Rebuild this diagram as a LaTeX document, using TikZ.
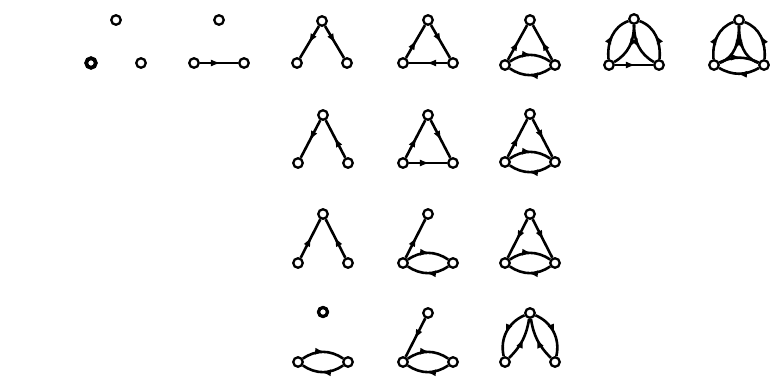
\documentclass[tikz,border=0pt]{standalone}
\usepackage{tikz}
\usetikzlibrary{arrows.meta,decorations.markings}

\begin{document}
\begin{tikzpicture}[x=1pt,y=1pt,
  vtx/.style={circle,draw,fill=white,line width=2.3pt,inner sep=0pt,minimum size=9.5pt},
  arc/.style={line width=2.6pt,
    decoration={markings,mark=at position 0.55 with {\arrow{Latex[length=10pt,width=7pt]}}},
    postaction={decorate}}]
  \useasboundingbox (0,0) rectangle (770,-380);

  % 顶点：每个图三个点（上、左下、右下）
  \foreach \g/\x/\y/\h in {r1a/116/20/43, r1b/219/20/43, r1c/322/21/42, r1d/428/20/43,
                           r1e/530/20/45, r1f/634/19/46, r1g/739/20/45,
                           r2c/323/115/48, r2d/428/115/48, r2e/530/114/48,
                           r3c/323/214/49, r3d/428/214/49, r3e/530/214/49,
                           r4c/323/312/50, r4d/428/313/49, r4e/530/313/49}
  {
    \node[vtx] (\g-t) at (\x,-\y) {};
    \node[vtx] (\g-l) at (\x-25,-\y-\h) {};
    \node[vtx] (\g-r) at (\x+25,-\y-\h) {};
  }
  % 加粗的孤立点
  \draw[line width=3.8pt] (r1a-l) circle (4.8pt);
  \draw[line width=3.2pt] (r4c-t) circle (4.5pt);

  % 第一行
  \draw[arc] (r1b-l) -- (r1b-r);
  \draw[arc] (r1c-t) -- (r1c-l);
  \draw[arc] (r1c-t) -- (r1c-r);
  \draw[arc] (r1d-l) -- (r1d-t);
  \draw[arc] (r1d-t) -- (r1d-r);
  \draw[arc] (r1d-r) -- (r1d-l);
  \draw[arc] (r1e-l) -- (r1e-t);
  \draw[arc] (r1e-r) -- (r1e-t);
  \draw[arc] (r1e-l) to[bend left=35] (r1e-r);
  \draw[arc] (r1e-r) to[bend left=35] (r1e-l);
  \draw[arc] (r1f-l) to[out=95,in=200] (r1f-t);
  \draw[arc] (r1f-r) to[out=85,in=-20] (r1f-t);
  \draw[arc] (r1f-t) to[out=-90,in=30] (r1f-l);
  \draw[arc] (r1f-t) to[out=-90,in=150] (r1f-r);
  \draw[arc] (r1f-l) -- (r1f-r);
  \draw[arc] (r1g-l) to[out=95,in=200] (r1g-t);
  \draw[arc] (r1g-r) to[out=85,in=-20] (r1g-t);
  \draw[arc] (r1g-t) to[out=-90,in=20] (r1g-l);
  \draw[arc] (r1g-t) to[out=-90,in=160] (r1g-r);
  \draw[arc] (r1g-l) to[bend left=25] (r1g-r);
  \draw[arc] (r1g-r) to[bend left=30] (r1g-l);

  % 第二行
  \draw[arc] (r2c-t) -- (r2c-l);
  \draw[arc] (r2c-r) -- (r2c-t);
  \draw[arc] (r2d-l) -- (r2d-t);
  \draw[arc] (r2d-t) -- (r2d-r);
  \draw[arc] (r2d-l) -- (r2d-r);
  \draw[arc] (r2e-l) -- (r2e-t);
  \draw[arc] (r2e-t) -- (r2e-r);
  \draw[arc] (r2e-l) to[bend left=35] (r2e-r);
  \draw[arc] (r2e-r) to[bend left=35] (r2e-l);

  % 第三行
  \draw[arc] (r3c-l) -- (r3c-t);
  \draw[arc] (r3c-r) -- (r3c-t);
  \draw[arc] (r3d-l) -- (r3d-t);
  \draw[arc] (r3d-l) to[bend left=35] (r3d-r);
  \draw[arc] (r3d-r) to[bend left=35] (r3d-l);
  \draw[arc] (r3e-t) -- (r3e-l);
  \draw[arc] (r3e-t) -- (r3e-r);
  \draw[arc] (r3e-l) to[bend left=35] (r3e-r);
  \draw[arc] (r3e-r) to[bend left=35] (r3e-l);

  % 第四行
  \draw[arc] (r4c-l) to[bend left=35] (r4c-r);
  \draw[arc] (r4c-r) to[bend left=35] (r4c-l);
  \draw[arc] (r4d-t) -- (r4d-l);
  \draw[arc] (r4d-l) to[bend left=35] (r4d-r);
  \draw[arc] (r4d-r) to[bend left=35] (r4d-l);
  \draw[arc] (r4e-t) to[bend right=40] (r4e-l);
  \draw[arc] (r4e-l) to[bend right=18] (r4e-t);
  \draw[arc] (r4e-t) to[bend left=40] (r4e-r);
  \draw[arc] (r4e-r) to[bend left=18] (r4e-t);
\end{tikzpicture}
\end{document}
